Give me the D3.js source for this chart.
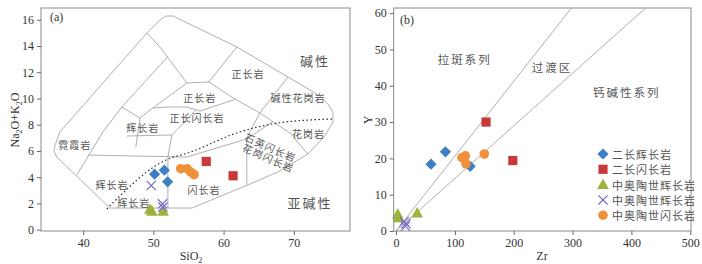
<!DOCTYPE html>
<html>
<head>
<meta charset="utf-8">
<script src="https://cdn.jsdelivr.net/npm/d3@7"></script>
<style>
  body { margin: 0; background: #fff; }
  .frame { fill: none; stroke: #8a8a8a; stroke-width: 1; }
  .tick text { font-family: "Liberation Serif", serif; font-size: 12px; fill: #333; }
  .field { fill: none; stroke: #9a9a9a; stroke-width: 0.8; }
  .zh { font-family: "Noto Sans CJK SC", sans-serif; fill: #555; }
</style>
</head>
<body>
<script>
// ---------- panel (a) TAS: SiO2 vs Na2O+K2O ----------
var tasXTicks = [40, 50, 60, 70];
var tasYTicks = [0, 2, 4, 6, 8, 10, 12, 14, 16];

// field boundaries [SiO2, alkali]
var tasOuter = [[43.8,1.65],[55.48,1.65],[63.45,3.41],[67.73,4.4],[72.0,5.77],[74.42,7.14],[75.57,8.21],
  [75.57,8.97],[74.85,9.58],[73.72,10.19],[69.16,11.64],[61.9,13.93],[52.78,16.29],[51.78,16.29],
  [50.93,15.98],[49.07,14.99],[36.68,7.45],[35.97,6.38],[35.83,6.0],[36.25,5.54],[43.8,1.65]];
var tasLines = [
  [[49.07,14.99],[50.93,13.93],[54.77,11.18]],
  [[54.77,11.18],[57.9,11.26]],
  [[57.9,11.26],[61.9,13.93]],
  [[57.9,11.26],[61.6,9.96],[65.16,8.9]],
  [[69.16,11.64],[65.16,8.9],[63.74,7.45],[63.3,6.99]],
  [[49.92,9.28],[51.92,9.35],[54.77,9.35],[56.62,9.04],[61.8,9.96]],
  [[49.92,9.28],[54.77,11.18]],
  [[52.0,13.16],[45.51,9.35],[42.81,7.45],[39.1,4.17]],
  [[45.51,9.35],[48.08,8.51],[49.92,9.28]],
  [[48.08,8.51],[47.5,6.3]],
  [[46.23,7.14],[52.64,7.22]],
  [[56.05,9.12],[52.64,7.22],[52.07,5.54],[52.07,1.65]],
  [[40.67,5.69],[54.73,5.54],[63.3,6.91]],
  [[63.3,6.99],[63.3,3.41]],
  [[63.3,6.91],[67.0,8.24]],
  [[65.16,8.9],[69.45,7.37],[72.0,5.77]]
];
// Irvine & Baragar alkaline / subalkaline divide
var tasDivide = [[43.38,1.58],[51.78,5.31],[55.2,5.9],[62.3,7.45],[68.0,8.15],[75.57,8.44]];

var tasNames = ["碱性","正长岩","正长岩","碱性花岗岩","正长闪长岩","辉长岩","霓霞岩","辉长岩","辉长岩","闪长岩","亚碱性","花岗岩","石英闪长岩","花岗闪长岩"];
var tasNameX = [73.0, 63.46, 56.6, 70.6, 56.2, 48.5, 38.8, 44.1, 47.2, 57.2, 72.3, 72.1, 66.7, 66.4];
var tasNameY = [12.9, 11.94, 10.04, 10.04, 8.59, 7.82, 6.46, 3.48, 2.11, 3.1, 2.11, 7.37, 6.3, 5.5];
var tasNameSize = [13, 10, 10, 10, 10, 10, 10, 10, 10, 10, 13, 10, 10, 10];
var tasNameRot = [0,0,0,0,0,0,0,0,0,0,0,0,24,24];

// samples
var sio2_monzogabbro = [50.17, 51.56, 52.03];
var alk_monzogabbro = [4.23, 4.54, 3.65];
var sio2_monzodiorite = [57.53, 61.35];
var alk_monzodiorite = [5.2, 4.11];
var sio2_gabbroTri = [49.5, 49.8, 51.4];
var alk_gabbroTri = [1.55, 1.4, 1.4];
var sio2_gabbroX = [49.7, 51.3, 51.35];
var alk_gabbroX = [3.37, 1.97, 1.72];
var sio2_diorite = [53.9, 54.8, 55.3, 55.8];
var alk_diorite = [4.65, 4.65, 4.4, 4.2];

// ---------- panel (b) Zr vs Y ----------
var zrTicks = [0, 100, 200, 300, 400, 500];
var yTicks = [0, 10, 20, 30, 40, 50, 60];
var zrYLines = [[[0,0],[298,61.4]], [[0,0],[424,61.4]]];
var zrNames = ["拉斑系列", "过渡区", "钙碱性系列"];
var zrNameX = [117, 265, 392];
var zrNameY = [47.3, 45.2, 38.3];

var zr_monzogabbro = [59.5, 84, 126];
var y_monzogabbro = [18.4, 21.8, 17.8];
var zr_monzodiorite = [153, 198.5];
var y_monzodiorite = [30, 19.4];
var zr_gabbroTri = [3, 4, 36];
var y_gabbroTri = [4.6, 3.6, 4.9];
var zr_gabbroX = [14, 17, 16];
var y_gabbroX = [2.6, 2.0, 1.3];
var zr_diorite = [112, 118, 119, 150];
var y_diorite = [20.2, 20.7, 18.5, 21.2];

var legendNames = ["二长辉长岩", "二长闪长岩", "中奥陶世辉长岩", "中奥陶世辉长岩", "中奥陶世闪长岩"];

// symbol styles
var kinds = ["diamond", "square", "triangle", "cross", "circle"];
var colors = {diamond: "#3d7fc2", square: "#c9393b", triangle: "#9cb43c", cross: "#7b67c4", circle: "#f0913a"};

function shapePath(kind){
  if (kind == "diamond") return "M0,-5.6L5.6,0L0,5.6L-5.6,0Z";
  if (kind == "square") return "M-4.6,-4.6H4.6V4.6H-4.6Z";
  if (kind == "triangle") return "M0,-6.2L5.8,4.4H-5.8Z";
  if (kind == "cross") return "M-4.6,-4.6L4.6,4.6M4.6,-4.6L-4.6,4.6";
  return d3.symbol().type(d3.symbolCircle).size(72)();
}

function drawMarks(g, xs, ys, kind, x, y){
  g.selectAll(null)
    .data(xs)
    .enter()
    .append("path")
    .attr("d", shapePath(kind))
    .attr("transform", function(d, i){ return "translate(" + x(d) + "," + y(ys[i]) + ")"; })
    .style("fill", kind == "cross" ? "none" : colors[kind])
    .style("stroke", kind == "cross" ? colors[kind] : "none")
    .style("stroke-width", 1.2);
}

var width = 702, height = 264;
var svg = d3.select("body").append("svg")
  .attr("width", width)
  .attr("height", height);

// ===== panel (a) =====
var xa = d3.scaleLinear().domain([34, 78]).range([41, 350]);
var ya = d3.scaleLinear().domain([-0.1, 16.9]).range([231, 8]);
var ga = svg.append("g");

var lineA = d3.line()
  .x(function(d){ return xa(d[0]); })
  .y(function(d){ return ya(d[1]); });

ga.append("path").datum(tasOuter).attr("class", "field").attr("d", lineA);
ga.selectAll(".inner")
  .data(tasLines)
  .enter()
  .append("path")
  .attr("class", "field inner")
  .attr("d", lineA);
ga.append("path")
  .datum(tasDivide)
  .attr("d", lineA.curve(d3.curveMonotoneX))
  .style("fill", "none")
  .style("stroke", "#333")
  .style("stroke-width", 1.2)
  .style("stroke-dasharray", "1.6,2.4");
lineA.curve(d3.curveLinear);

ga.selectAll(".tasname")
  .data(tasNames)
  .enter()
  .append("text")
  .attr("class", "zh tasname")
  .attr("text-anchor", "middle")
  .attr("dominant-baseline", "central")
  .attr("transform", function(d, i){
    return "translate(" + xa(tasNameX[i]) + "," + ya(tasNameY[i]) + ") rotate(" + tasNameRot[i] + ")";
  })
  .style("font-size", function(d, i){ return tasNameSize[i] + "px"; })
  .style("letter-spacing", function(d, i){ return tasNameSize[i] > 11 ? "2px" : "1px"; })
  .text(function(d){ return d; });

drawMarks(ga, sio2_gabbroTri, alk_gabbroTri, "triangle", xa, ya);
drawMarks(ga, sio2_monzogabbro, alk_monzogabbro, "diamond", xa, ya);
drawMarks(ga, sio2_monzodiorite, alk_monzodiorite, "square", xa, ya);
drawMarks(ga, sio2_diorite, alk_diorite, "circle", xa, ya);
drawMarks(ga, sio2_gabbroX, alk_gabbroX, "cross", xa, ya);

ga.append("rect").attr("class", "frame")
  .attr("x", 41).attr("y", 8).attr("width", 309).attr("height", 223);

ga.append("g")
  .attr("transform", "translate(0,231)")
  .call(d3.axisBottom(xa).tickValues(tasXTicks).tickSize(4).tickSizeOuter(0))
  .call(function(g){ g.select(".domain").remove(); g.selectAll("line").attr("stroke", "#666"); });
ga.append("g")
  .attr("transform", "translate(41,0)")
  .call(d3.axisLeft(ya).tickValues(tasYTicks).tickSize(4).tickSizeOuter(0))
  .call(function(g){ g.select(".domain").remove(); g.selectAll("line").attr("stroke", "#666"); });

ga.append("text")
  .attr("x", 50).attr("y", 21)
  .style("font-family", "Liberation Serif").style("font-size", "12px").style("fill", "#333")
  .text("(a)");

var sioLabel = ga.append("text")
  .attr("x", 191).attr("y", 260)
  .attr("text-anchor", "middle")
  .style("font-family", "Liberation Serif").style("font-size", "12px").style("fill", "#333");
sioLabel.append("tspan").text("SiO");
sioLabel.append("tspan").attr("dy", 3).style("font-size", "8px").text("2");

var alkLabel = ga.append("text")
  .attr("transform", "translate(19,120) rotate(-90)")
  .attr("text-anchor", "middle")
  .style("font-family", "Liberation Serif").style("font-size", "12px").style("fill", "#333");
alkLabel.append("tspan").text("Na");
alkLabel.append("tspan").attr("dy", 3).style("font-size", "8px").text("2");
alkLabel.append("tspan").attr("dy", -3).text("O+K");
alkLabel.append("tspan").attr("dy", 3).style("font-size", "8px").text("2");
alkLabel.append("tspan").attr("dy", -3).text("O");

// ===== panel (b) =====
var xb = d3.scaleLinear().domain([-3.9, 501.2]).range([393.7, 691]);
var yb = d3.scaleLinear().domain([0, 61.4]).range([231, 8]);
var gb = svg.append("g");

var lineB = d3.line()
  .x(function(d){ return xb(d[0]); })
  .y(function(d){ return yb(d[1]); });
gb.selectAll(".ratio")
  .data(zrYLines)
  .enter()
  .append("path")
  .attr("class", "field ratio")
  .attr("d", lineB);

gb.selectAll(".zrname")
  .data(zrNames)
  .enter()
  .append("text")
  .attr("class", "zh zrname")
  .attr("x", function(d, i){ return xb(zrNameX[i]); })
  .attr("y", function(d, i){ return yb(zrNameY[i]); })
  .attr("text-anchor", "middle")
  .attr("dominant-baseline", "central")
  .style("font-size", "11.5px")
  .style("letter-spacing", "2px")
  .text(function(d){ return d; });

drawMarks(gb, zr_gabbroTri, y_gabbroTri, "triangle", xb, yb);
drawMarks(gb, zr_monzogabbro, y_monzogabbro, "diamond", xb, yb);
drawMarks(gb, zr_monzodiorite, y_monzodiorite, "square", xb, yb);
drawMarks(gb, zr_diorite, y_diorite, "circle", xb, yb);
drawMarks(gb, zr_gabbroX, y_gabbroX, "cross", xb, yb);

gb.append("rect").attr("class", "frame")
  .attr("x", 393.7).attr("y", 8).attr("width", 297.3).attr("height", 223);

gb.append("g")
  .attr("transform", "translate(0,231)")
  .call(d3.axisBottom(xb).tickValues(zrTicks).tickSize(4).tickSizeOuter(0))
  .call(function(g){ g.select(".domain").remove(); g.selectAll("line").attr("stroke", "#666"); });
gb.append("g")
  .attr("transform", "translate(393.7,0)")
  .call(d3.axisLeft(yb).tickValues(yTicks).tickSize(4).tickSizeOuter(0))
  .call(function(g){ g.select(".domain").remove(); g.selectAll("line").attr("stroke", "#666"); });

gb.append("text")
  .attr("x", 400).attr("y", 24)
  .style("font-family", "Liberation Serif").style("font-size", "12px").style("fill", "#333")
  .text("(b)");
gb.append("text")
  .attr("x", 542).attr("y", 260)
  .attr("text-anchor", "middle")
  .style("font-family", "Liberation Serif").style("font-size", "12px").style("fill", "#333")
  .text("Zr");
gb.append("text")
  .attr("transform", "translate(372,120) rotate(-90)")
  .attr("text-anchor", "middle")
  .style("font-family", "Liberation Serif").style("font-size", "12px").style("fill", "#333")
  .text("Y");

// legend
var legend = gb.selectAll(".legend")
  .data(legendNames)
  .enter()
  .append("g")
  .attr("class", "legend")
  .attr("transform", function(d, i){ return "translate(603," + (154 + i * 15.3) + ")"; });
legend.append("path")
  .attr("d", function(d, i){ return shapePath(kinds[i]); })
  .style("fill", function(d, i){ return kinds[i] == "cross" ? "none" : colors[kinds[i]]; })
  .style("stroke", function(d, i){ return kinds[i] == "cross" ? colors[kinds[i]] : "none"; })
  .style("stroke-width", 1.2);
legend.append("text")
  .attr("class", "zh")
  .attr("x", 9)
  .attr("dominant-baseline", "central")
  .style("font-size", "11px")
  .style("letter-spacing", "1px")
  .text(function(d){ return d; });
</script>
</body>
</html>
